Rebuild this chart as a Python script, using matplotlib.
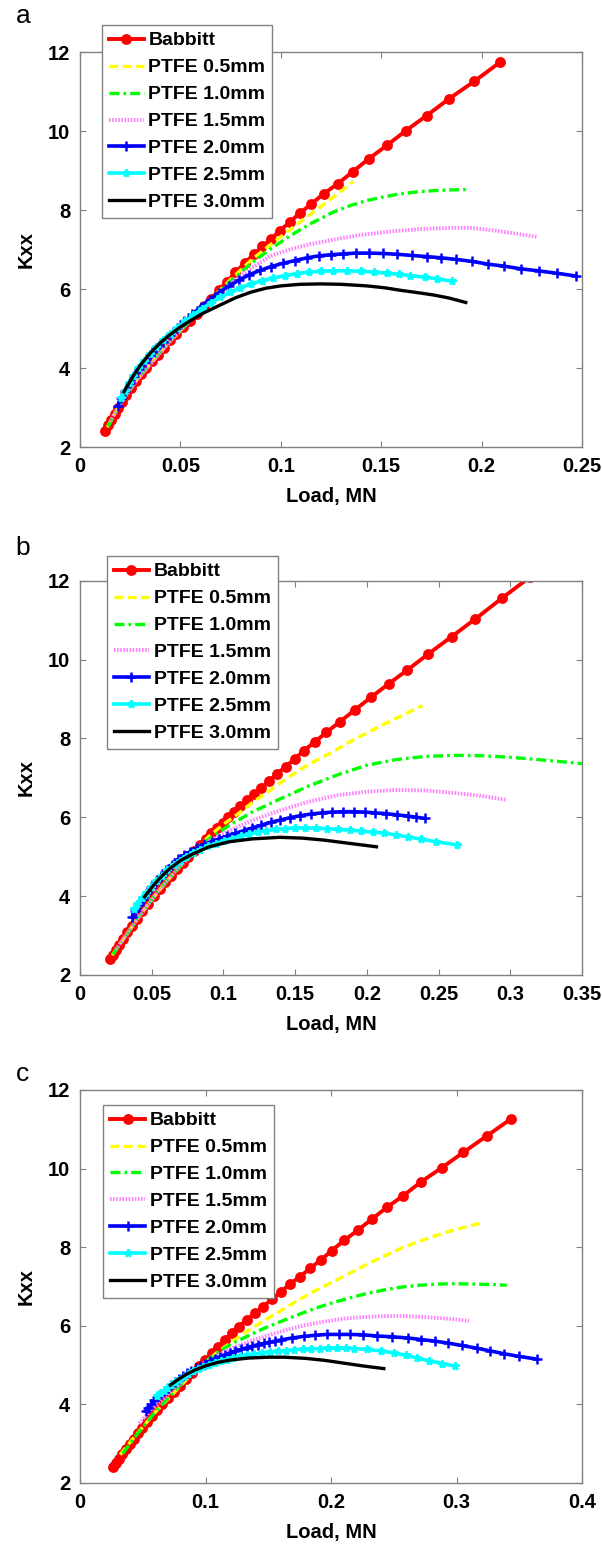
import numpy as np
import matplotlib.pyplot as plt
from matplotlib.ticker import FormatStrFormatter

plt.rcParams['font.family'] = ['Liberation Sans', 'DejaVu Sans']
plt.rcParams['font.weight'] = 'bold'
plt.rcParams['axes.labelweight'] = 'bold'

# ----------------------
# DATA  (load in MN, Kxx)
# ----------------------
series_labels = ['Babbitt', 'PTFE 0.5mm', 'PTFE 1.0mm', 'PTFE 1.5mm',
                 'PTFE 2.0mm', 'PTFE 2.5mm', 'PTFE 3.0mm']
panel_letters = ['a', 'b', 'c']
x_max = [0.25, 0.35, 0.4]
x_step = [0.05, 0.05, 0.1]
y_ticks = [2, 4, 6, 8, 10, 12]

# --- panel a ---
a_babbitt = [[0.0126, 2.41], [0.0140, 2.55], [0.0155, 2.69], [0.0172, 2.84], [0.0190, 2.98],
             [0.0210, 3.14], [0.0231, 3.32], [0.0253, 3.50], [0.0277, 3.68], [0.0302, 3.84],
             [0.0329, 4.00], [0.0357, 4.17], [0.0386, 4.34], [0.0416, 4.52], [0.0447, 4.70],
             [0.0479, 4.87], [0.0512, 5.04], [0.0546, 5.20], [0.0581, 5.37], [0.0617, 5.56],
             [0.0654, 5.76], [0.0692, 5.97], [0.0732, 6.19], [0.0774, 6.42], [0.0820, 6.66],
             [0.0868, 6.89], [0.0908, 7.08], [0.0952, 7.27], [0.0996, 7.48], [0.1044, 7.69],
             [0.1094, 7.92], [0.1151, 8.15], [0.1213, 8.41], [0.1285, 8.67], [0.1358, 8.97],
             [0.1439, 9.30], [0.1529, 9.64], [0.1623, 10.01], [0.1726, 10.39], [0.1839, 10.82],
             [0.1964, 11.26], [0.2094, 11.75]]
a_ptfe05 = [[0.0136, 2.50], [0.0200, 3.10], [0.0280, 3.68], [0.0360, 4.16], [0.0450, 4.69],
            [0.0550, 5.21], [0.0650, 5.73], [0.0750, 6.24], [0.0850, 6.72], [0.0950, 7.13],
            [0.1050, 7.52], [0.1150, 7.90], [0.1250, 8.28], [0.1361, 8.72]]
a_ptfe10 = [[0.0140, 2.52], [0.0200, 3.10], [0.0280, 3.68], [0.0360, 4.16], [0.0450, 4.69],
            [0.0550, 5.21], [0.0650, 5.73], [0.0750, 6.20], [0.0850, 6.64], [0.0950, 7.02],
            [0.1050, 7.36], [0.1150, 7.66], [0.1262, 7.95], [0.1350, 8.12], [0.1428, 8.24],
            [0.1510, 8.33], [0.1594, 8.41], [0.1680, 8.46], [0.1760, 8.49], [0.1850, 8.51],
            [0.1934, 8.52]]
a_ptfe15 = [[0.0150, 2.64], [0.0200, 3.10], [0.0280, 3.68], [0.0360, 4.16], [0.0450, 4.69],
            [0.0550, 5.21], [0.0650, 5.71], [0.0750, 6.14], [0.0850, 6.52], [0.0950, 6.84],
            [0.1050, 7.01], [0.1150, 7.14], [0.1262, 7.25], [0.1400, 7.37], [0.1550, 7.46],
            [0.1700, 7.52], [0.1850, 7.55], [0.1942, 7.55], [0.2050, 7.49], [0.2150, 7.42],
            [0.2277, 7.32]]
a_ptfe20 = [[0.0188, 3.05], [0.0205, 3.23], [0.0225, 3.43], [0.0247, 3.62], [0.0270, 3.80],
            [0.0295, 3.98], [0.0322, 4.16], [0.0350, 4.33], [0.0380, 4.50], [0.0412, 4.67],
            [0.0446, 4.84], [0.0482, 5.01], [0.0520, 5.18], [0.0560, 5.36], [0.0602, 5.55],
            [0.0646, 5.73], [0.0692, 5.91], [0.0740, 6.07], [0.0790, 6.22], [0.0842, 6.36],
            [0.0896, 6.47], [0.0952, 6.57], [0.1010, 6.65], [0.1070, 6.72], [0.1130, 6.79],
            [0.1190, 6.84], [0.1250, 6.87], [0.1310, 6.89], [0.1375, 6.91], [0.1440, 6.91],
            [0.1510, 6.90], [0.1580, 6.88], [0.1655, 6.85], [0.1730, 6.82], [0.1800, 6.79],
            [0.1873, 6.75], [0.1952, 6.70], [0.2032, 6.63], [0.2112, 6.58], [0.2198, 6.51],
            [0.2284, 6.46], [0.2374, 6.40], [0.2470, 6.33]]
a_ptfe25 = [[0.0203, 3.24], [0.0222, 3.43], [0.0243, 3.62], [0.0266, 3.81], [0.0291, 4.00],
            [0.0318, 4.18], [0.0347, 4.36], [0.0378, 4.53], [0.0411, 4.70], [0.0446, 4.86],
            [0.0483, 5.02], [0.0522, 5.18], [0.0563, 5.34], [0.0606, 5.50], [0.0651, 5.65],
            [0.0698, 5.79], [0.0747, 5.92], [0.0798, 6.03], [0.0851, 6.13], [0.0906, 6.21],
            [0.0962, 6.28], [0.1020, 6.34], [0.1080, 6.39], [0.1140, 6.43], [0.1200, 6.45],
            [0.1262, 6.46], [0.1330, 6.46], [0.1400, 6.45], [0.1465, 6.43], [0.1527, 6.40],
            [0.1590, 6.37], [0.1643, 6.34], [0.1718, 6.30], [0.1776, 6.26], [0.1851, 6.20]]
a_ptfe30 = [[0.0219, 3.40], [0.0260, 3.76], [0.0300, 4.07], [0.0350, 4.38], [0.0400, 4.64],
            [0.0450, 4.85], [0.0500, 5.04], [0.0550, 5.20], [0.0610, 5.38], [0.0700, 5.60],
            [0.0775, 5.78], [0.0850, 5.92], [0.0925, 6.02], [0.1000, 6.08], [0.1096, 6.12],
            [0.1200, 6.13], [0.1300, 6.12], [0.1428, 6.08], [0.1520, 6.03], [0.1594, 5.97],
            [0.1680, 5.91], [0.1760, 5.85], [0.1840, 5.77], [0.1921, 5.66]]

# --- panel b ---
b_babbitt = [[0.0209, 2.40], [0.0228, 2.51], [0.0248, 2.63], [0.0272, 2.77], [0.0300, 2.92],
             [0.0330, 3.08], [0.0360, 3.24], [0.0395, 3.42], [0.0435, 3.62], [0.0475, 3.81],
             [0.0515, 4.00], [0.0555, 4.18], [0.0595, 4.35], [0.0635, 4.52], [0.0675, 4.69],
             [0.0715, 4.84], [0.0755, 5.00], [0.0795, 5.15], [0.0835, 5.30], [0.0875, 5.44],
             [0.0915, 5.59], [0.0955, 5.73], [0.0995, 5.86], [0.1035, 6.00], [0.1076, 6.14],
             [0.1118, 6.28], [0.1167, 6.44], [0.1213, 6.59], [0.1265, 6.75], [0.1318, 6.92],
             [0.1373, 7.10], [0.1434, 7.28], [0.1497, 7.48], [0.1562, 7.69], [0.1636, 7.91],
             [0.1718, 8.15], [0.1811, 8.42], [0.1916, 8.72], [0.2028, 9.04], [0.2151, 9.38],
             [0.2281, 9.73], [0.2428, 10.14], [0.2591, 10.58], [0.2753, 11.02], [0.2940, 11.55],
             [0.3140, 12.10]]
b_ptfe05 = [[0.0225, 2.50], [0.0300, 2.90], [0.0400, 3.42], [0.0500, 3.91], [0.0600, 4.35],
            [0.0700, 4.77], [0.0800, 5.15], [0.0900, 5.52], [0.1000, 5.82], [0.1100, 6.08],
            [0.1200, 6.37], [0.1300, 6.62], [0.1400, 6.88], [0.1500, 7.12], [0.1600, 7.35],
            [0.1764, 7.66], [0.1880, 7.91], [0.1997, 8.13], [0.2120, 8.36], [0.2229, 8.55],
            [0.2388, 8.83]]
b_ptfe10 = [[0.0230, 2.52], [0.0400, 3.42], [0.0550, 4.15], [0.0700, 4.77], [0.0787, 5.09],
            [0.0900, 5.45], [0.1043, 5.80], [0.1200, 6.13], [0.1392, 6.46], [0.1600, 6.80],
            [0.1800, 7.08], [0.2000, 7.32], [0.2200, 7.46], [0.2400, 7.54], [0.2600, 7.57],
            [0.2800, 7.56], [0.3000, 7.52], [0.3200, 7.46], [0.3500, 7.36]]
b_ptfe15 = [[0.0250, 2.64], [0.0400, 3.42], [0.0550, 4.15], [0.0700, 4.77], [0.0787, 5.07],
            [0.0900, 5.40], [0.1043, 5.66], [0.1200, 5.92], [0.1392, 6.17], [0.1600, 6.40],
            [0.1800, 6.56], [0.2000, 6.65], [0.2200, 6.69], [0.2400, 6.68], [0.2600, 6.62],
            [0.2800, 6.54], [0.2975, 6.44]]
b_ptfe20 = [[0.0362, 3.47], [0.0385, 3.62], [0.0410, 3.77], [0.0437, 3.92], [0.0466, 4.07],
            [0.0497, 4.22], [0.0530, 4.37], [0.0565, 4.52], [0.0602, 4.66], [0.0641, 4.80],
            [0.0682, 4.93], [0.0725, 5.04], [0.0770, 5.13], [0.0817, 5.22], [0.0866, 5.31],
            [0.0917, 5.38], [0.0970, 5.45], [0.1025, 5.52], [0.1082, 5.59], [0.1141, 5.66],
            [0.1202, 5.73], [0.1265, 5.80], [0.1330, 5.87], [0.1397, 5.93], [0.1466, 5.99],
            [0.1537, 6.04], [0.1610, 6.08], [0.1685, 6.11], [0.1760, 6.13], [0.1835, 6.14],
            [0.1910, 6.14], [0.1985, 6.13], [0.2060, 6.11], [0.2135, 6.09], [0.2210, 6.06],
            [0.2285, 6.03], [0.2345, 6.00], [0.2404, 5.97]]
b_ptfe25 = [[0.0375, 3.68], [0.0400, 3.80], [0.0430, 3.95], [0.0462, 4.09], [0.0496, 4.24],
            [0.0532, 4.38], [0.0570, 4.52], [0.0610, 4.65], [0.0652, 4.78], [0.0696, 4.90],
            [0.0742, 5.00], [0.0790, 5.09], [0.0840, 5.18], [0.0892, 5.26], [0.0946, 5.33],
            [0.1002, 5.40], [0.1060, 5.46], [0.1120, 5.52], [0.1180, 5.57], [0.1240, 5.62],
            [0.1300, 5.66], [0.1365, 5.69], [0.1430, 5.71], [0.1500, 5.73], [0.1570, 5.73],
            [0.1645, 5.72], [0.1720, 5.71], [0.1800, 5.69], [0.1880, 5.67], [0.1960, 5.65],
            [0.2040, 5.62], [0.2120, 5.60], [0.2200, 5.55], [0.2290, 5.50], [0.2380, 5.44],
            [0.2480, 5.38], [0.2626, 5.30]]
b_ptfe30 = [[0.0450, 3.98], [0.0500, 4.22], [0.0560, 4.47], [0.0620, 4.68], [0.0700, 4.90],
            [0.0787, 5.07], [0.0900, 5.25], [0.1043, 5.38], [0.1200, 5.45], [0.1392, 5.49],
            [0.1550, 5.47], [0.1700, 5.42], [0.1850, 5.35], [0.2067, 5.25]]

# --- panel c ---
c_babbitt = [[0.0263, 2.40], [0.0285, 2.51], [0.0310, 2.62], [0.0337, 2.74], [0.0365, 2.87],
             [0.0395, 3.00], [0.0427, 3.13], [0.0460, 3.27], [0.0495, 3.40], [0.0532, 3.55],
             [0.0571, 3.70], [0.0612, 3.85], [0.0655, 4.00], [0.0700, 4.16], [0.0747, 4.32],
             [0.0796, 4.48], [0.0846, 4.65], [0.0896, 4.81], [0.0946, 4.97], [0.0996, 5.13],
             [0.1049, 5.30], [0.1102, 5.47], [0.1155, 5.64], [0.1209, 5.81], [0.1267, 5.98],
             [0.1328, 6.15], [0.1394, 6.32], [0.1461, 6.49], [0.1527, 6.67], [0.1602, 6.87],
             [0.1673, 7.06], [0.1753, 7.25], [0.1833, 7.46], [0.1918, 7.67], [0.2005, 7.91],
             [0.2104, 8.17], [0.2217, 8.44], [0.2324, 8.71], [0.2444, 9.01], [0.2576, 9.31],
             [0.2717, 9.66], [0.2882, 10.02], [0.3054, 10.41], [0.3241, 10.83], [0.3437, 11.27]]
c_ptfe05 = [[0.0320, 2.72], [0.0450, 3.24], [0.0600, 3.80], [0.0750, 4.30], [0.0900, 4.80],
            [0.1000, 5.08], [0.1100, 5.34], [0.1222, 5.62], [0.1350, 5.90], [0.1487, 6.17],
            [0.1620, 6.42], [0.1753, 6.68], [0.1880, 6.90], [0.2018, 7.12], [0.2150, 7.34],
            [0.2284, 7.56], [0.2420, 7.77], [0.2550, 7.96], [0.2680, 8.12], [0.2815, 8.27],
            [0.2950, 8.41], [0.3080, 8.52], [0.3201, 8.62]]
c_ptfe10 = [[0.0340, 2.75], [0.0450, 3.22], [0.0600, 3.81], [0.0750, 4.33], [0.0900, 4.82],
            [0.1000, 5.09], [0.1100, 5.33], [0.1220, 5.56], [0.1350, 5.76], [0.1470, 5.94],
            [0.1594, 6.10], [0.1753, 6.30], [0.1880, 6.45], [0.2018, 6.59], [0.2150, 6.71],
            [0.2284, 6.82], [0.2420, 6.91], [0.2550, 6.98], [0.2700, 7.03], [0.2850, 7.06],
            [0.2990, 7.07], [0.3150, 7.06], [0.3280, 7.05], [0.3400, 7.03]]
c_ptfe15 = [[0.0470, 3.52], [0.0550, 3.79], [0.0650, 4.10], [0.0750, 4.40], [0.0850, 4.68],
            [0.0930, 4.92], [0.1050, 5.18], [0.1200, 5.42], [0.1350, 5.60], [0.1500, 5.76],
            [0.1650, 5.90], [0.1800, 6.02], [0.1950, 6.11], [0.2100, 6.18], [0.2250, 6.22],
            [0.2400, 6.24], [0.2550, 6.25], [0.2700, 6.23], [0.2850, 6.20], [0.3000, 6.16],
            [0.3100, 6.12]]
c_ptfe20 = [[0.0523, 3.83], [0.0545, 3.92], [0.0568, 4.01], [0.0592, 4.10], [0.0617, 4.18],
            [0.0643, 4.26], [0.0670, 4.34], [0.0698, 4.42], [0.0727, 4.50], [0.0757, 4.58],
            [0.0788, 4.65], [0.0820, 4.72], [0.0853, 4.79], [0.0887, 4.86], [0.0922, 4.92],
            [0.0958, 4.98], [0.0995, 5.04], [0.1033, 5.10], [0.1072, 5.16], [0.1112, 5.21],
            [0.1153, 5.26], [0.1195, 5.31], [0.1238, 5.36], [0.1282, 5.40], [0.1327, 5.44],
            [0.1372, 5.48], [0.1417, 5.52], [0.1463, 5.55], [0.1509, 5.58], [0.1555, 5.61],
            [0.1600, 5.64], [0.1692, 5.69], [0.1784, 5.73], [0.1876, 5.76], [0.1968, 5.78],
            [0.2060, 5.78], [0.2151, 5.78], [0.2258, 5.77], [0.2366, 5.74], [0.2488, 5.72],
            [0.2611, 5.69], [0.2718, 5.65], [0.2825, 5.61], [0.2932, 5.56], [0.3040, 5.50],
            [0.3160, 5.43], [0.3270, 5.36], [0.3376, 5.29], [0.3500, 5.22], [0.3642, 5.15]]
c_ptfe25 = [[0.0615, 4.21], [0.0640, 4.28], [0.0667, 4.35], [0.0695, 4.42], [0.0725, 4.49],
            [0.0757, 4.56], [0.0790, 4.63], [0.0825, 4.70], [0.0862, 4.77], [0.0900, 4.84],
            [0.0940, 4.90], [0.0982, 4.96], [0.1026, 5.01], [0.1072, 5.06], [0.1120, 5.10],
            [0.1170, 5.14], [0.1222, 5.18], [0.1276, 5.22], [0.1332, 5.25], [0.1390, 5.28],
            [0.1450, 5.31], [0.1512, 5.33], [0.1575, 5.35], [0.1640, 5.37], [0.1706, 5.39],
            [0.1773, 5.40], [0.1841, 5.41], [0.1910, 5.42], [0.1980, 5.43], [0.2050, 5.43],
            [0.2120, 5.43], [0.2182, 5.42], [0.2289, 5.40], [0.2396, 5.36], [0.2503, 5.31],
            [0.2595, 5.25], [0.2687, 5.18], [0.2779, 5.11], [0.2886, 5.04], [0.2990, 4.97]]
c_ptfe30 = [[0.0720, 4.49], [0.0780, 4.63], [0.0850, 4.77], [0.0920, 4.88], [0.1000, 4.98],
            [0.1100, 5.07], [0.1200, 5.13], [0.1350, 5.18], [0.1500, 5.20], [0.1630, 5.20],
            [0.1800, 5.17], [0.1950, 5.12], [0.2100, 5.05], [0.2250, 4.98], [0.2421, 4.91]]

panels = [[a_babbitt, a_ptfe05, a_ptfe10, a_ptfe15, a_ptfe20, a_ptfe25, a_ptfe30],
          [b_babbitt, b_ptfe05, b_ptfe10, b_ptfe15, b_ptfe20, b_ptfe25, b_ptfe30],
          [c_babbitt, c_ptfe05, c_ptfe10, c_ptfe15, c_ptfe20, c_ptfe25, c_ptfe30]]

# ----------------------
# STYLE / LAYOUT
# ----------------------
colors = ['#ff0000', '#ffff00', '#00ff00', '#ff7fff', '#0000ff', '#00ffff', '#000000']
styles = ['-', (0, (2.6, 1.4)), (0, (3.0, 1.2, 0.8, 1.2)), (0, (0.4, 0.4)), '-', '-', '-']
widths = [2.8, 2.4, 2.4, 2.8, 2.6, 2.6, 2.4]
markers = ['o', None, None, None, '+', '*', None]
msizes = [6, 0, 0, 0, 6.5, 5.5, 0]

axes_rects = [[0.1329, 0.7112, 0.8339, 0.2552],
              [0.1329, 0.3702, 0.8339, 0.2547],
              [0.1329, 0.0420, 0.8339, 0.2539]]
legend_anchor = [(0.169, 0.9838), (0.1777, 0.6408), (0.1719, 0.2862)]
letter_pos = [(0.026, 0.9851), (0.026, 0.6415), (0.026, 0.3019)]
grey = '#808080'

fig = plt.figure(figsize=(6.02, 15.48), dpi=100)

for p in range(3):
    ax = fig.add_axes(axes_rects[p])
    for s in range(7):
        d = np.array(panels[p][s])
        ax.plot(d[:, 0], d[:, 1], color=colors[s], linestyle=styles[s], lw=widths[s],
                marker=markers[s], ms=msizes[s], mew=1.8, label=series_labels[s])
    ax.set_xlim(0, x_max[p])
    ax.set_ylim(2, 12)
    ax.set_xticks(np.arange(0, x_max[p] + 1e-9, x_step[p]))
    ax.set_yticks(y_ticks)
    ax.xaxis.set_major_formatter(FormatStrFormatter('%g'))
    ax.tick_params(direction='in', length=4, width=0.8, color=grey, labelsize=14.5,
                   top=True, right=True, pad=7)
    plt.setp(ax.get_xticklabels() + ax.get_yticklabels(), fontweight='bold')
    for sp in ax.spines.values():
        sp.set_color(grey)
        sp.set_linewidth(1)
    ax.set_xlabel('Load, MN', fontsize=14.5, fontweight='bold', labelpad=8)
    ax.set_ylabel('Kxx', fontsize=14.5, fontweight='bold', labelpad=9)
    leg = ax.legend(loc='upper left', bbox_to_anchor=legend_anchor[p],
                    bbox_transform=fig.transFigure, fontsize=14, numpoints=1,
                    handlelength=1.8, handletextpad=0.25, borderpad=0.35,
                    labelspacing=0.48, borderaxespad=0, fancybox=False,
                    framealpha=1, edgecolor=grey, prop={'weight': 'bold', 'size': 14})
    leg.get_frame().set_linewidth(1)
    fig.text(letter_pos[p][0], letter_pos[p][1], panel_letters[p], fontsize=19,
             fontweight='normal', va='baseline')

fig.savefig('out.png', dpi=100, facecolor='white')
